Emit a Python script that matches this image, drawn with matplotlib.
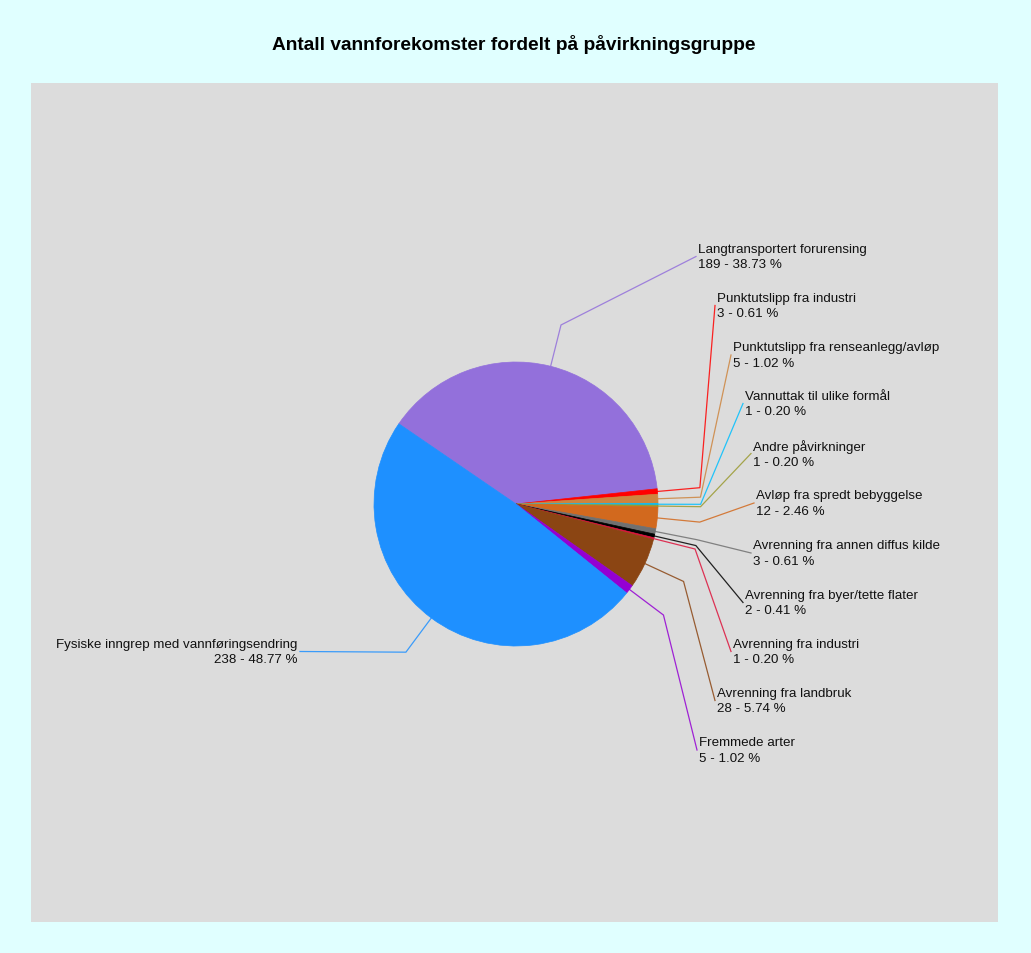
import matplotlib
matplotlib.use("Agg")
import matplotlib.pyplot as plt
import numpy as np

# ---------------- data ----------------
categories = [
    "Langtransportert forurensing",
    "Punktutslipp fra industri",
    "Punktutslipp fra renseanlegg/avløp",
    "Vannuttak til ulike formål",
    "Andre påvirkninger",
    "Avløp fra spredt bebyggelse",
    "Avrenning fra annen diffus kilde",
    "Avrenning fra byer/tette flater",
    "Avrenning fra industri",
    "Avrenning fra landbruk",
    "Fremmede arter",
    "Fysiske inngrep med vannføringsendring",
]
counts = [189, 3, 5, 1, 1, 12, 3, 2, 1, 28, 5, 238]
colors = ["#9370DB", "#FF0000", "#CD853F", "#00BFFF", "#9A9A30", "#D2691E",
          "#707070", "#000000", "#DC143C", "#8B4513", "#9400D3", "#1E90FF"]

# label anchor positions in pixels (x of text edge, y of text block centre)
label_px = [(698, 257.5), (717, 306.5), (733, 356), (745, 404.5), (753, 454.5),
            (756, 504), (753, 554), (745, 603.5), (733, 652.5), (717, 701.5),
            (699, 751), (297, 652.5)]

# ---------------- layout ----------------
W, H = 1031, 954
DPI = 100
plt.rcParams["font.family"] = ["Liberation Sans", "DejaVu Sans"]
fig = plt.figure(figsize=(W / DPI, H / DPI), dpi=DPI, facecolor="#E0FFFF")

px_l, px_r, px_t, px_b = 31, 998, 84, 923
ax = fig.add_axes([px_l / W, 1 - px_b / H, (px_r - px_l) / W, (px_b - px_t) / H])
cx, cy, R = 516, 505, 142.0


def to_data(x, y):
    return (x - cx) / R, (cy - y) / R


wedges, _ = ax.pie(counts, colors=colors, startangle=145.6, counterclock=False,
                   radius=1.0, center=(0, 0))
for w, c in zip(wedges, colors):
    w.set_edgecolor(c)
    w.set_linewidth(0.5)
ax.set_xlim((px_l - cx) / R, (px_r - cx) / R)
ax.set_ylim((cy - px_b) / R, (cy - px_t) / R)
ax.set_aspect("auto")
ax.set_frame_on(True)
ax.set_facecolor("#DCDCDC")
for s in ax.spines.values():
    s.set_visible(False)
ax.set_xticks([])
ax.set_yticks([])

total = sum(counts)
theta = 145.6
for i, (cat, n) in enumerate(zip(categories, counts)):
    span = 360.0 * n / total
    mid = np.deg2rad(theta - span / 2)
    theta -= span
    p0 = (np.cos(mid), np.sin(mid))
    p1 = (1.3 * np.cos(mid), 1.3 * np.sin(mid))
    tx, ty = label_px[i]
    right_side = tx > cx
    ex, ey = to_data(tx - 2 if right_side else tx + 3, ty)
    ax.plot([p0[0], p1[0], ex], [p0[1], p1[1], ey], color=colors[i],
            lw=0.9, alpha=0.85, solid_joinstyle="miter", zorder=1)
    pct = 100.0 * n / total
    txt = f"{cat}\n{n} - {pct:.2f} %"
    dx, dy = to_data(tx, ty)
    ax.text(dx, dy, txt, ha="left" if right_side else "right", va="center",
            multialignment="left" if right_side else "right",
            fontsize=9.6, color="#111111", linespacing=1.36, zorder=3)

fig.text(514 / W, 1 - 44 / H, "Antall vannforekomster fordelt på påvirkningsgruppe",
         ha="center", va="center", fontsize=13.75, fontweight="bold", color="#000000")

fig.savefig("out.png", dpi=DPI, facecolor=fig.get_facecolor())
